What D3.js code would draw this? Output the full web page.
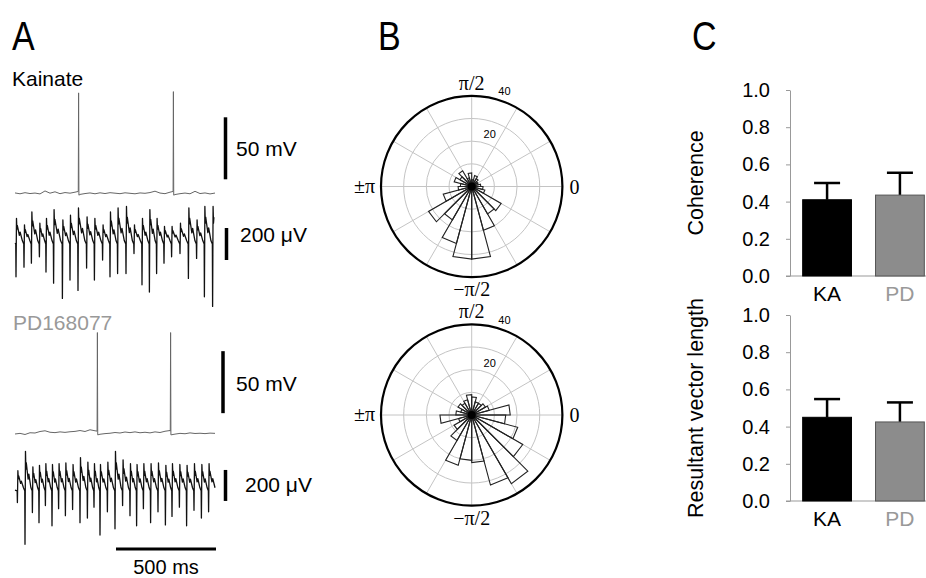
<!DOCTYPE html>
<html>
<head>
<meta charset="utf-8">
<script src="https://cdn.jsdelivr.net/npm/d3@7"></script>
<style>
  body { margin: 0; background: #fff; }
  text { font-family: "Liberation Sans", Arial, sans-serif; }
  .serif { font-family: "Liberation Serif", "Times New Roman", serif; }
</style>
</head>
<body>
<svg id="fig" width="926" height="578"></svg>
<script>
// ---------- panel A data ----------
// membrane potential, mV relative to rest, one sample every 25 ms (0..1000 ms)
var vmKA = [0.3, -0.4, 0.5, -0.2, 0.2, -0.5, 1.9, 0.1, 1.2, -0.3, 0.6, 0.1, 0.9, -0.9,
            -0.2, 0.3, -0.4, 0.4, -0.2, 0.5, 0.1, -0.3, 0.4, 0.0, -0.4, 0.3, 0.0, 0.6,
            1.7, 0.2, -0.3, 0.9, -1.0, -0.3, 0.2, -0.4, 1.6, -0.2, 0.3, -0.5, 0.2];
var spikeKA_t = [318, 792];
var spikeKA_peak = [81, 82];

var vmPD = [-0.8, -0.3, -1.2, 0.2, 0.0, 1.2, 1.8, 0.6, 0.3, 0.9, 0.5, 1.0, 1.3, 2.0,
            1.2, 2.6, 1.8, -1.0, -0.5, -0.2, 0.4, 0.0, 0.8, 0.3, 0.9, 0.2, 0.6, 0.1,
            0.9, 0.4, 1.4, 2.0, -0.9, -0.3, -0.6, 0.1, -0.4, -0.2, -0.5, -0.1, -0.3];
var spikePD_t = [412, 778];
var spikePD_peak = [81, 81];

// field potential cycles: time of the sharp negative deflection (ms), its depth and the following peak (uV)
var lfpKA_t = [5, 45, 82, 122, 155, 193, 237, 275, 315, 358, 397, 438, 475, 513, 555, 595,
               635, 672, 708, 745, 783, 825, 867, 908, 947, 988];
var lfpKA_dn = [230, 170, 145, 105, 200, 270, 365, 250, 315, 175, 250, 125, 230, 210, 210, 85,
                280, 325, 210, 145, 105, 85, 240, 115, 355, 415];
var lfpKA_up = [135, 95, 175, 105, 135, 190, 125, 155, 200, 145, 135, 95, 175, 200, 210, 95,
                135, 190, 135, 85, 85, 105, 200, 125, 210, 210];

var lfpPD_t = [12, 50, 87, 120, 152, 185, 218, 252, 288, 325, 362, 395, 425, 462, 500, 538,
               575, 608, 642, 678, 715, 752, 785, 822, 858, 895, 932, 968];
var lfpPD_dn = [100, 370, 165, 230, 120, 250, 140, 185, 145, 230, 200, 130, 310, 160, 270, 120,
                185, 250, 140, 230, 160, 245, 190, 130, 250, 150, 200, 160];
var lfpPD_up = [105, 230, 130, 140, 150, 145, 150, 155, 145, 190, 160, 150, 145, 160, 230, 175,
                150, 145, 150, 150, 155, 140, 150, 145, 140, 150, 145, 150];

// ---------- panel B data: counts per 15 degree bin, starting at 0 rad going counter-clockwise ----------
var roseKA = [4, 3, 3, 4, 5, 3, 6, 4, 8, 6, 8, 5, 6, 13, 22, 17, 26, 32, 32, 20, 14, 15, 6, 5];
var rosePD = [17, 8, 7, 6, 6, 8, 9, 7, 6, 7, 5, 7, 14, 6, 9, 13, 23, 20, 21, 32, 35, 26, 21, 15];
var roseRings = [10, 20, 30, 40];

// ---------- panel C data ----------
var groups = ["KA", "PD"];
var coherence = [0.41, 0.435];
var coherenceErr = [0.09, 0.12];
var vectorLength = [0.45, 0.425];
var vectorLengthErr = [0.098, 0.105];
var yTicks = [0, 0.2, 0.4, 0.6, 0.8, 1.0];

var svg = d3.select("#fig");
svg.append("rect").attr("width", 926).attr("height", 578).attr("fill", "#fff");

// panel letters
[["A", 12], ["B", 378], ["C", 692]].forEach(function(p){
    svg.append("text").attr("transform", "translate(" + p[1] + ",50) scale(0.85,1)")
        .attr("font-size", 40).text(p[0]);
});

// ===================== A =====================
var tx = d3.scaleLinear().domain([0, 1000]).range([15, 215]);

function vmPoints(samples, spT, spPk){
    var pts = samples.map(function(v, i){ return [i * 25, v]; });
    spT.forEach(function(t, k){
        pts.push([t - 1.6, 1.5], [t, spPk[k]], [t + 1.6, -1.5]);
    });
    pts.sort(function(a, b){ return a[0] - b[0]; });
    return pts;
}

function lfpPoints(ts, dn, up){
    var pts = [[0, -20]];
    ts.forEach(function(t0, i){
        var T = (i < ts.length - 1 ? ts[i + 1] : t0 + 40) - t0;
        var u = up[i];
        pts.push([t0 - 1.2, -25], [t0, -dn[i]], [t0 + 2.4, u],
                 [t0 + 4.5, 0.5 * u], [t0 + 6.5, 0.68 * u], [t0 + 0.42 * T, 0.22 * u],
                 [t0 + 0.52 * T, 0.36 * u], [t0 + 0.8 * T, -5]);
    });
    return pts.filter(function(p){ return p[0] >= 0 && p[0] <= 1000; });
}

function drawTrace(pts, yScale, color, width){
    var line = d3.line().x(function(d){ return tx(d[0]); }).y(function(d){ return yScale(d[1]); });
    svg.append("path").attr("d", line(pts)).attr("fill", "none")
        .attr("stroke", color).attr("stroke-width", width).attr("stroke-linejoin", "round");
}

var vmYKA = d3.scaleLinear().domain([0, 50]).range([193.3, 131.3]);
var vmYPD = d3.scaleLinear().domain([0, 50]).range([433, 371]);
var lfpYKA = d3.scaleLinear().domain([0, 200]).range([240, 208]);
var lfpYPD = d3.scaleLinear().domain([0, 200]).range([487, 456]);

drawTrace(vmPoints(vmKA, spikeKA_t, spikeKA_peak), vmYKA, "#666", 1);
drawTrace(vmPoints(vmPD, spikePD_t, spikePD_peak), vmYPD, "#666", 1);
drawTrace(lfpPoints(lfpKA_t, lfpKA_dn, lfpKA_up), lfpYKA, "#111", 1.3);
drawTrace(lfpPoints(lfpPD_t, lfpPD_dn, lfpPD_up), lfpYPD, "#111", 1.3);

svg.append("text").attr("x", 12).attr("y", 86).attr("font-size", 21).text("Kainate");
svg.append("text").attr("x", 13).attr("y", 330).attr("font-size", 21).attr("fill", "#999").text("PD168077");

// scale bars
function vBar(x, y0, y1){
    svg.append("line").attr("x1", x).attr("x2", x).attr("y1", y0).attr("y2", y1)
        .attr("stroke", "#000").attr("stroke-width", 3.5);
}
vBar(225.5, vmYKA(0) - 14, vmYKA(50) - 14);
vBar(226.5, lfpYKA(-125), lfpYKA(75));
vBar(223, vmYPD(16), vmYPD(66));
vBar(225.5, lfpYPD(-90), lfpYPD(110));
svg.append("line").attr("x1", tx(505)).attr("x2", tx(1005)).attr("y1", 549).attr("y2", 549)
    .attr("stroke", "#000").attr("stroke-width", 3);

svg.append("text").attr("x", 236).attr("y", 156).attr("font-size", 21).text("50 mV");
svg.append("text").attr("x", 240).attr("y", 242).attr("font-size", 21).text("200 \u03bcV");
svg.append("text").attr("x", 236).attr("y", 391).attr("font-size", 21).text("50 mV");
svg.append("text").attr("x", 245).attr("y", 492).attr("font-size", 21).text("200 \u03bcV");
svg.append("text").attr("x", 166).attr("y", 574).attr("font-size", 20)
    .attr("text-anchor", "middle").text("500 ms");

// ===================== B =====================
function drawRose(cx, cy, counts){
    var r = d3.scaleLinear().domain([0, 40]).range([0, 90.7]);
    var g = svg.append("g").attr("transform", "translate(" + cx + "," + cy + ")");
    roseRings.slice(0, 3).forEach(function(v){
        g.append("circle").attr("r", r(v)).attr("fill", "none").attr("stroke", "#c4c4c4").attr("stroke-width", 1);
    });
    d3.range(0, 360, 30).forEach(function(a){
        var rad = a * Math.PI / 180;
        g.append("line").attr("x1", 0).attr("y1", 0)
            .attr("x2", r(40) * Math.cos(rad)).attr("y2", -r(40) * Math.sin(rad))
            .attr("stroke", "#c4c4c4").attr("stroke-width", 1);
    });
    g.append("circle").attr("r", r(40)).attr("fill", "none").attr("stroke", "#000").attr("stroke-width", 2.2);

    var bin = Math.PI / 12;
    g.selectAll("path.w").data(counts).enter().append("path")
        .attr("d", function(d, i){
            var a0 = i * bin, a1 = (i + 1) * bin, rr = r(d);
            return "M0,0L" + rr * Math.cos(a0) + "," + (-rr * Math.sin(a0)) +
                   "L" + rr * Math.cos(a1) + "," + (-rr * Math.sin(a1)) + "Z";
        })
        .attr("fill", "none").attr("stroke", "#222").attr("stroke-width", 1.1)
        .attr("stroke-linejoin", "miter");
    g.append("circle").attr("r", 4).attr("fill", "#000");

    [20, 40].forEach(function(v){
        var a = 71 * Math.PI / 180, rr = r(v) + 10;
        g.append("text").attr("x", rr * Math.cos(a)).attr("y", -rr * Math.sin(a))
            .attr("dy", "0.35em").attr("text-anchor", "middle").attr("font-size", 11).text(v);
    });
    g.append("text").attr("class", "serif").attr("x", 0).attr("y", -r(40) - 6)
        .attr("text-anchor", "middle").attr("font-size", 20).text("\u03c0/2");
    g.append("text").attr("class", "serif").attr("x", 0).attr("y", r(40) + 19)
        .attr("text-anchor", "middle").attr("font-size", 20).text("\u2212\u03c0/2");
    g.append("text").attr("class", "serif").attr("x", -r(40) - 6).attr("y", 6)
        .attr("text-anchor", "end").attr("font-size", 20).text("\u00b1\u03c0");
    g.append("text").attr("class", "serif").attr("x", r(40) + 7).attr("y", 7)
        .attr("text-anchor", "start").attr("font-size", 20).text("0");
}
drawRose(471.7, 186.5, roseKA);
drawRose(471.7, 415, rosePD);

// ===================== C =====================
var xb = d3.scaleBand().domain(groups).range([790, 937]).paddingInner(0.33).paddingOuter(0.174);

function drawBars(y0, y1, vals, errs, title){
    var y = d3.scaleLinear().domain([0, 1]).range([y0, y1]);
    var ax = svg.append("g").attr("transform", "translate(790,0)")
        .call(d3.axisLeft(y).tickValues(yTicks).tickFormat(d3.format(".1f"))
              .tickSize(4).tickSizeOuter(0).tickPadding(16));
    ax.select(".domain").attr("stroke", "#999");
    ax.selectAll(".tick line").attr("stroke", "#999");
    ax.selectAll(".tick text").attr("font-size", 20).attr("fill", "#000")
        .attr("font-family", "Liberation Sans, Arial, sans-serif");
    svg.append("line").attr("x1", 786).attr("x2", 926).attr("y1", y(0)).attr("y2", y(0))
        .attr("stroke", "#999").attr("stroke-width", 1);

    var bw = xb.bandwidth();
    groups.forEach(function(gname, i){
        var cx = xb(gname) + bw / 2;
        svg.append("line").attr("x1", cx).attr("x2", cx).attr("y1", y(vals[i]))
            .attr("y2", y(vals[i] + errs[i])).attr("stroke", "#000").attr("stroke-width", 2.5);
        svg.append("line").attr("x1", cx - 13).attr("x2", cx + 13)
            .attr("y1", y(vals[i] + errs[i])).attr("y2", y(vals[i] + errs[i]))
            .attr("stroke", "#000").attr("stroke-width", 2.5);
        svg.append("rect").attr("x", xb(gname)).attr("width", bw)
            .attr("y", y(vals[i])).attr("height", y(0) - y(vals[i]))
            .attr("fill", i === 0 ? "#000" : "#8c8c8c")
            .attr("stroke", i === 0 ? "#000" : "#555").attr("stroke-width", 1);
        svg.append("text").attr("x", cx).attr("y", y0 + 25).attr("text-anchor", "middle")
            .attr("font-size", 21).attr("fill", i === 0 ? "#000" : "#999").text(gname);
    });
    svg.append("text").attr("transform", "translate(703," + (y0 + y1) / 2 + ") rotate(-90)")
        .attr("text-anchor", "middle").attr("font-size", 21.5).text(title);
}
drawBars(276, 90, coherence, coherenceErr, "Coherence");
drawBars(501, 315, vectorLength, vectorLengthErr, "Resultant vector length");
</script>
</body>
</html>
